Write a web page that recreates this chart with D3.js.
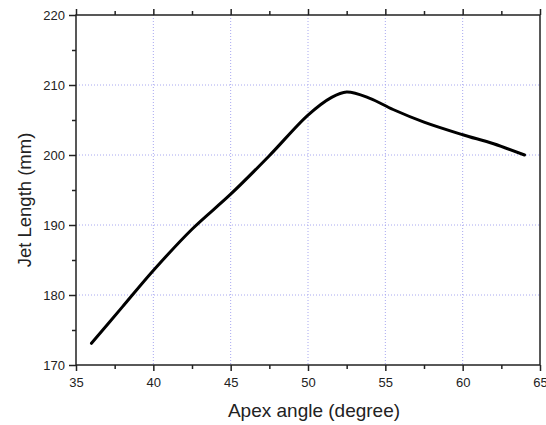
<!DOCTYPE html>
<html lang="en">
<head>
<script src="https://d3js.org/d3.v7.min.js"></script>
<style>
body { margin: 0; background: #fff; }
text { font-family: "Liberation Sans", Arial, sans-serif; fill: #222; }
.grid line { stroke: #a8a8f0; stroke-width: 1; stroke-dasharray: 1,2; }
</style>
</head>
<body>
<svg width="546" height="425"></svg>
<script>
// data
var angles  = [36, 38, 40, 42.5, 45, 47.5, 50, 51.5, 52.5, 54, 55.5, 57.5, 60, 62, 64];
var lengths = [173.1, 178.3, 183.5, 189.4, 194.4, 199.9, 205.7, 208.2, 209.0, 208.1, 206.5, 204.7, 202.9, 201.6, 200.0];
var xTicks = [35, 40, 45, 50, 55, 60, 65];
var yTicks = [170, 180, 190, 200, 210, 220];

var svg = d3.select("svg");
var pLeft = 76, pRight = 540, pTop = 15, pBottom = 365;

var x = d3.scaleLinear().domain([35, 65]).range([pLeft, pRight]);
var y = d3.scaleLinear().domain([170, 220]).range([pBottom, pTop]);

// grid
var grid = svg.append("g").attr("class", "grid");
grid.selectAll(".gx").data(xTicks.slice(1, -1)).enter().append("line")
  .attr("x1", function(d) { return x(d); }).attr("x2", function(d) { return x(d); })
  .attr("y1", pTop).attr("y2", pBottom);
grid.selectAll(".gy").data(yTicks.slice(1, -1)).enter().append("line")
  .attr("x1", pLeft).attr("x2", pRight)
  .attr("y1", function(d) { return y(d); }).attr("y2", function(d) { return y(d); });

var minorX = d3.range(37.5, 65, 5);
var minorY = d3.range(175, 220, 10);

function styleAxis(g) {
  g.select(".domain").remove();
  g.selectAll("line").attr("stroke", "#222").attr("stroke-width", 1.5);
  g.selectAll("text").attr("font-size", "13px").attr("fill", "#222")
    .attr("font-family", "'Liberation Sans', Arial, sans-serif");
}

// bottom
svg.append("g").attr("transform", "translate(0," + pBottom + ")")
  .call(d3.axisBottom(x).tickValues(xTicks).tickSize(6).tickPadding(7).tickFormat(d3.format("d")))
  .call(styleAxis);
svg.append("g").attr("transform", "translate(0," + pBottom + ")")
  .call(d3.axisBottom(x).tickValues(minorX).tickSize(4).tickFormat(""))
  .call(styleAxis);
// top
svg.append("g").attr("transform", "translate(0," + pTop + ")")
  .call(d3.axisTop(x).tickValues(xTicks).tickSize(6).tickFormat(""))
  .call(styleAxis);
svg.append("g").attr("transform", "translate(0," + pTop + ")")
  .call(d3.axisTop(x).tickValues(minorX).tickSize(4).tickFormat(""))
  .call(styleAxis);
// left
svg.append("g").attr("transform", "translate(" + pLeft + ",0)")
  .call(d3.axisLeft(y).tickValues(yTicks).tickSize(7).tickPadding(4).tickFormat(d3.format("d")))
  .call(styleAxis);
svg.append("g").attr("transform", "translate(" + pLeft + ",0)")
  .call(d3.axisLeft(y).tickValues(minorY).tickSize(4).tickFormat(""))
  .call(styleAxis);

// frame
svg.append("rect")
  .attr("x", pLeft).attr("y", pTop)
  .attr("width", pRight - pLeft).attr("height", pBottom - pTop)
  .attr("fill", "none").attr("stroke", "#222").attr("stroke-width", 1.5);

// curve
var line = d3.line()
  .x(function(d, i) { return x(angles[i]); })
  .y(function(d) { return y(d); })
  .curve(d3.curveCatmullRom);
svg.append("path")
  .datum(lengths)
  .attr("d", line)
  .attr("fill", "none")
  .attr("stroke", "#000")
  .attr("stroke-width", 3)
  .attr("stroke-linejoin", "round")
  .attr("stroke-linecap", "round");

// titles
svg.append("text")
  .attr("x", 314).attr("y", 417)
  .attr("text-anchor", "middle")
  .attr("font-size", "19px")
  .text("Apex angle (degree)");
svg.append("text")
  .attr("transform", "translate(31,200) rotate(-90)")
  .attr("text-anchor", "middle")
  .attr("font-size", "18.5px")
  .text("Jet Length (mm)");
</script>
</body>
</html>
